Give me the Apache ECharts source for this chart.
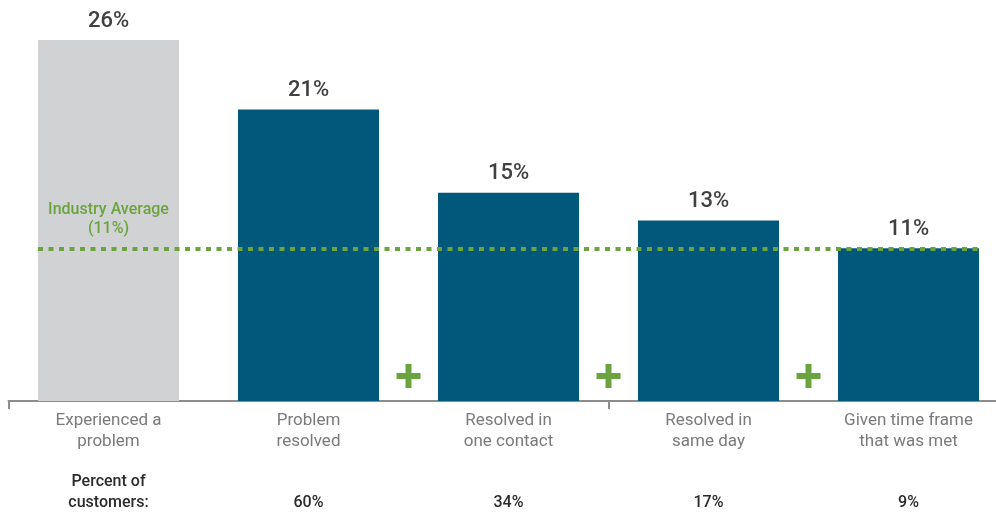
<!DOCTYPE html>
<html><head><meta charset="utf-8">
<script src="https://cdn.jsdelivr.net/npm/echarts@6/dist/echarts.min.js"></script>
<style>html,body{margin:0;padding:0;background:#fff}#c{width:996px;height:513px}</style>
</head><body><div id="c"></div>
<script>
const categories = ['Experienced a\nproblem', 'Problem\nresolved', 'Resolved in\none contact', 'Resolved in\nsame day', 'Given time frame\nthat was met'];
const values = [26, 21, 15, 13, 11];
const percentCustomers = ['Percent of\ncustomers:', '60%', '34%', '17%', '9%'];
const industryAverage = 11;
const plusPositions = [2, 3, 4];
const plusHeight = 1.8;

const GREY = '#d1d2d4', TEAL = '#02587a', GREEN = '#6ba43f';
const chart = echarts.init(document.getElementById('c'));
const FONT = 'Roboto';
const plusPath = 'path://M3,0 H5 V3 H8 V5 H5 V8 H3 V5 H0 V3 H3 Z';

chart.setOption({
  animation: false,
  grid: { left: 8.5, width: 1000, top: 40, bottom: 112, outerBoundsMode: 'none', containLabel: false },
  xAxis: [{
    type: 'category',
    data: categories,
    axisLine: { lineStyle: { color: '#8c8c8c', width: 2 } },
    axisTick: { show: true, length: 8, lineStyle: { color: '#8c8c8c', width: 2 },
      interval: function (i) { return i === 0 || i === 3; } },
    axisLabel: {
      interval: 0, margin: 9,
      formatter: function (v, i) {
        const c = v.split('\n').map(s => '{c|' + s + '}').join('\n');
        const p = percentCustomers[i].split('\n');
        const pl = p.length === 2 ? '{p|' + p[0] + '}\n{p|' + p[1] + '}' : '{p| }\n{p|' + p[0] + '}';
        return c + '\n{sp| }\n' + pl;
      },
      rich: {
        c: { fontFamily: FONT, fontSize: 17, color: '#7a7a7a', lineHeight: 21 },
        sp: { fontSize: 10, lineHeight: 19 },
        p: { fontFamily: FONT, fontSize: 16, fontWeight: 500, color: '#2b2b2b', lineHeight: 21 }
      }
    }
  }, {
    type: 'value', min: 0, max: 5, show: false
  }],
  yAxis: { type: 'value', min: 0, max: 26, show: false },
  series: [{
    type: 'bar',
    data: values.map((v, i) => ({ value: v, itemStyle: { color: i === 0 ? GREY : TEAL } })),
    barWidth: '70.5%',
    label: { show: true, position: 'top', distance: 8, formatter: '{c}%',
      fontFamily: FONT, fontSize: 22, fontWeight: 500, color: '#404040' },
    markPoint: {
      symbol: 'circle', symbolSize: 0,
      data: [{ coord: [0, industryAverage] }],
      label: { show: true, position: 'top', distance: 10, formatter: 'Industry Average\n(11%)',
        fontFamily: FONT, fontSize: 16, fontWeight: 500, color: GREEN, lineHeight: 19, align: 'center' }
    }
  }, {
    type: 'scatter',
    xAxisIndex: 1,
    data: plusPositions.map(x => [x, plusHeight]),
    symbol: plusPath, symbolSize: 24,
    itemStyle: { color: GREEN, opacity: 1 },
    z: 5,
    markLine: {
      symbol: 'none', silent: true,
      lineStyle: { color: GREEN, type: [5, 5.5], width: 4 },
      label: { show: false },
      data: [[{ coord: [0.1475, industryAverage] }, { coord: [4.8525, industryAverage] }]]
    }
  }]
});
</script></body></html>
